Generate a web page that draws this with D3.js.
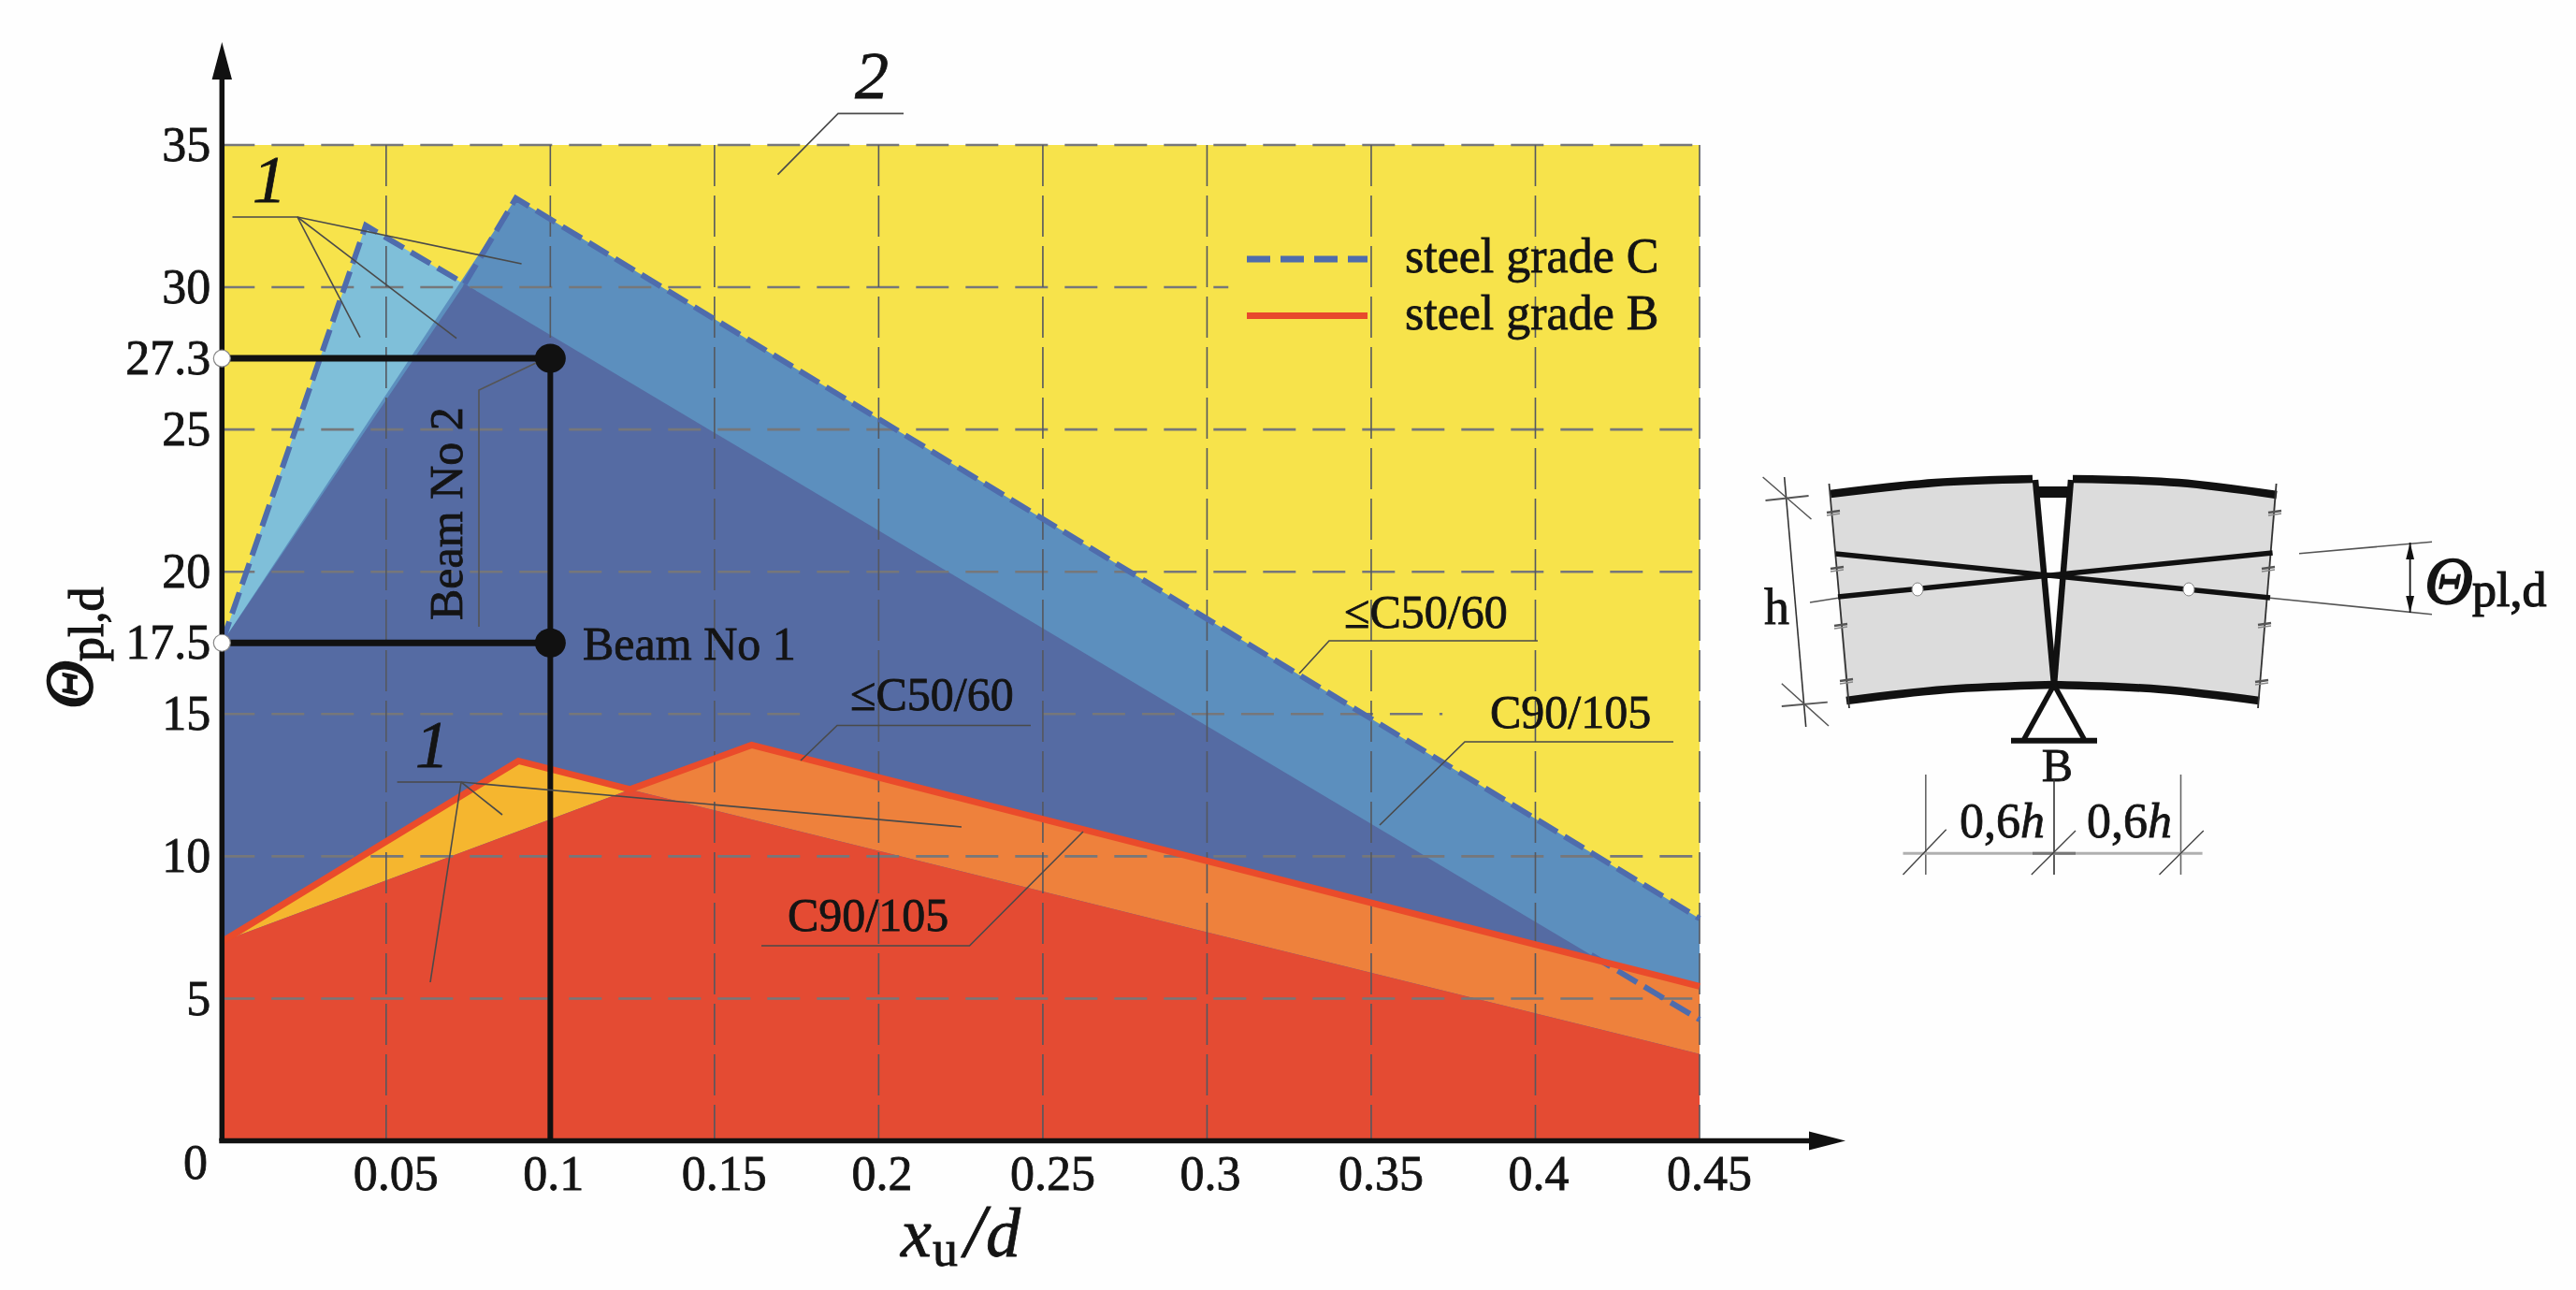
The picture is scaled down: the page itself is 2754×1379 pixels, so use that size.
<!DOCTYPE html>
<html><head><meta charset="utf-8">
<script src="https://cdn.jsdelivr.net/npm/d3@7/dist/d3.min.js"></script>
<style>
html,body{margin:0;padding:0;background:#fefefe;overflow:hidden}
text{font-family:"Liberation Serif",serif;fill:#141414;stroke:#141414;stroke-width:.8px}
</style></head><body><svg id="c" width="2754" height="1379"></svg>
<script>
// ---- data (x = xu/d, y = theta pl,d) ----
const xTicks=[0.05,0.1,0.15,0.2,0.25,0.3,0.35,0.4,0.45];
const yTicks=[5,10,15,17.5,20,25,27.5,30,35];
const yTickLabels=["5","10","15","17.5","20","25","27.3","30","35"];
const gridY=[5,10,20,25,35];
const gridYBroken=[[15,0,0.176],[15,0.25,0.3717],[30,0,0.3065]];
const gridX=[0.05,0.1,0.15,0.2,0.25,0.3,0.35,0.4,0.45];
const steelCLow=[[0,17.5],[0.0895,33.13],[0.45,7.81],[0.45,0],[0,0]];
const steelCHigh=[[0,17.5],[0.0438,32.17],[0.45,4.26],[0.45,0],[0,0]];
const steelCBoth=[[0,17.5],[0.0739,30.12],[0.45,4.26],[0.45,0],[0,0]];
const steelCEdgeA=[[0,17.5],[0.0438,32.17],[0.0739,30.12]];
const steelCEdgeB=[[0.0739,30.12],[0.0895,33.13],[0.45,7.81]];
const steelCEdgeTail=[[0.417,6.53],[0.45,4.26]];
const steelBOnlyHigh=[[0,7],[0.0903,13.35],[0.1243,12.35]];
const steelBOnlyLow=[[0.1243,12.35],[0.1613,13.91],[0.45,5.43],[0.45,3.05]];
const steelBBoth=[[0,0],[0,7],[0.1243,12.35],[0.45,3.05],[0.45,0]];
const steelBEdge=[[0,7],[0.0903,13.35],[0.1243,12.35],[0.1613,13.91],[0.45,5.43]];
const beams=[{name:"Beam No 1",x:0.1,y:17.5},{name:"Beam No 2",x:0.1,y:27.5}];

// ---- scales ----
const x=d3.scaleLinear().domain([0,0.45]).range([237.3,1817]);
const y=d3.scaleLinear().domain([0,35]).range([1219.5,155]);
const svg=d3.select("#c");
const pl=d3.line().x(d=>x(d[0])).y(d=>y(d[1]));
const raw=d3.line();
const area=(pts,fill)=>svg.append("path").attr("d",pl(pts)+"Z").attr("fill",fill);
const pen=(pts,col,w,extra)=>{const p=svg.append("path").attr("d",raw(pts)).attr("fill","none").attr("stroke",col).attr("stroke-width",w);if(extra)p.attr("stroke-dasharray",extra);return p;};
const txt=(s,px,py,size,o={})=>{const t=svg.append("text").attr("x",px).attr("y",py).attr("font-size",size).text(s);
  if(o.italic)t.attr("font-style","italic");if(o.sw)t.style("stroke-width",o.sw+"px");if(o.anchor)t.attr("text-anchor",o.anchor);if(o.rot)t.attr("transform",`rotate(-90 ${px} ${py})`);return t;};

// ---- fills ----
svg.append("rect").attr("x",x(0)).attr("y",y(35)).attr("width",x(0.45)-x(0)).attr("height",y(0)-y(35)).attr("fill","#f7e34b");
area(steelCHigh,"#7fbfd9");
area(steelCLow,"#5c8fbe");
area(steelCBoth,"#556ba3");
area(steelBOnlyHigh,"#f5b62f");
area(steelBOnlyLow,"#ee813c");
area(steelBBoth,"#e44b33");

// ---- grid ----
const hDash="35 18", vDash="44 10";
gridY.forEach(v=>pen([[x(0),y(v)],[x(0.45),y(v)]],"#76777a",2.6,hDash));
gridYBroken.forEach(g=>pen([[x(g[1]),y(g[0])],[x(g[2]),y(g[0])]],"#76777a",2.6,hDash));
gridX.forEach(v=>pen([[x(v),y(35)],[x(v),y(0)]],"#55585f",1.6,vDash));

// ---- limit lines ----
[steelCEdgeA,steelCEdgeB,steelCEdgeTail].forEach(s=>svg.append("path").attr("d",pl(s)).attr("fill","none").attr("stroke","#4f6cac").attr("stroke-width",6).attr("stroke-dasharray","24 9"));
svg.append("path").attr("d",pl(steelBEdge)).attr("fill","none").attr("stroke","#ea4b2b").attr("stroke-width",7).attr("stroke-linejoin","miter");

// ---- beam guides ----
pen([[x(0.1),y(0)],[x(0.1),y(27.5)]],"#111",6);
beams.forEach(b=>{
  pen([[x(0),y(b.y)],[x(b.x),y(b.y)]],"#111",7);
  svg.append("ellipse").attr("cx",x(b.x)).attr("cy",y(b.y)).attr("rx",16.5).attr("ry",15.5).attr("fill","#111");
});

// ---- axes ----
pen([[x(0),y(0)],[x(0),84]],"#111",5.5);
pen([[x(0)-3,y(0)],[1936,y(0)]],"#111",5.5);
svg.append("path").attr("d","M237.3,45L248,85L226.6,85Z").attr("fill","#111");
svg.append("path").attr("d","M1973,1219.5L1934,1209.5L1934,1229.5Z").attr("fill","#111");
beams.forEach(b=>svg.append("circle").attr("cx",x(0)).attr("cy",y(b.y)).attr("r",9).attr("fill","#fff").attr("stroke","#888").attr("stroke-width",1.2));

const gx=svg.append("g").attr("transform",`translate(0,${y(0)})`).call(d3.axisBottom(x).tickValues(xTicks).tickSize(0).tickPadding(16).tickFormat(d=>String(d)));
const gy=svg.append("g").attr("transform",`translate(${x(0)},0)`).call(d3.axisLeft(y).tickValues(yTicks).tickSize(0).tickPadding(12).tickFormat((d,i)=>yTickLabels[i]));
[gx,gy].forEach(g=>{g.select(".domain").remove();g.attr("font-family",null).attr("font-size",null);g.selectAll("text").attr("font-size",52).attr("fill","#141414");});
gx.selectAll("text").attr("dx",d=>String(d).length>3?10:3);
txt("0",209,1260,52,{anchor:"middle"});

// axis titles
txt("x",963,1343,74,{italic:true});
txt("u",997,1353,54);
txt("/",1031,1343,80,{italic:true});
txt("d",1054,1343,74,{italic:true});
txt("\u0398",98,758,72,{italic:true,rot:true,sw:1.8});
txt("pl,d",110,707,52,{rot:true,sw:1.2});

// ---- annotations ----
const lead="#4a4a4a";
[ [[831.5,186.6],[896,121.4],[966,121.4]],
  [[248.5,232],[318,232],[557.6,282]],
  [[318,232],[488,361.6]],
  [[318,232],[385,360.7]],
  [[424.6,836],[493,836],[1028,884]],
  [[493,836],[537,871]],
  [[493,836],[460,1050]],
  [[856,813],[895,775.5],[1102,775.5]],
  [[1389,720],[1421,685],[1644,685]],
  [[1475,882],[1566,793],[1789,793]],
  [[814,1011],[1036.5,1011],[1158,889]]
].forEach(l=>pen(l,lead,1.6));
pen([[573,388],[512,417],[512,670]],"#555",1.6);

txt("1",270,216,72,{italic:true});
txt("2",914,105,72,{italic:true});
txt("1",444,820,72,{italic:true});
txt("Beam No 1",623,705,50);
txt("Beam No 2",494,663,50,{rot:true});
txt("\u2264C50/60",909,759,50);
txt("\u2264C50/60",1437,671,50);
txt("C90/105",1593,778,50);
txt("C90/105",842,995,50);

// ---- legend ----
pen([[1333,277],[1462,277]],"#4f6cac",7,"25 11");
pen([[1333,337.5],[1462,337.5]],"#e8492c",7);
txt("steel grade C",1502,291,52);
txt("steel grade B",1502,352,52);

// ---- detail sketch ----
const curve=d3.line().curve(d3.curveCatmullRom);
const bk="#111";
const tl=[[1957,528],[2069,516],[2173,512]], tr=[[2216,512],[2329,516],[2434,529]];
const bl=[[1974,749],[2081,737],[2196,732]], br=[[2196,732],[2311,737],[2415,749]];
[[tl,bl],[tr,br]].forEach(p=>{
  svg.append("path").attr("d",raw([...p[0],...p[1].slice().reverse()])+"Z").attr("fill","#dcdcdc");
});
[tl,tr,bl,br].forEach(s=>svg.append("path").attr("d",curve(s)).attr("fill","none").attr("stroke",bk).attr("stroke-width",8.5));
svg.append("rect").attr("x",2176).attr("y",520).attr("width",38).attr("height",12).attr("fill",bk);
pen([[2176,513],[2196,732]],bk,6.5);
pen([[2214,513],[2196,732]],bk,6.5);
pen([[1955.5,517],[1977,757]],"#333",1.8);
pen([[2433.6,517],[2414,757]],"#333",1.8);
pen([[1962.5,592],[2427,639]],bk,5.5);
pen([[1965,638],[2429.6,591]],bk,5.5);
[2050,2340].forEach(cx=>svg.append("ellipse").attr("cx",cx).attr("cy",630).attr("rx",6).attr("ry",7).attr("fill","#fff").attr("stroke","#888").attr("stroke-width",1));
[[1960,547],[1964,607],[1968,668],[1974,727],[2432,547],[2425,607],[2421,667],[2418,728]].forEach(p=>{
  pen([[p[0]-7,p[1]+1],[p[0]+7,p[1]-1]],"#555",2.5);
  pen([[p[0]-7,p[1]+4],[p[0]+7,p[1]+2]],"#888",1.5);
});
// support
pen([[2196,732],[2164,790]],bk,5.5);
pen([[2196,732],[2228,790]],bk,5.5);
pen([[2150,791.7],[2242,791.7]],bk,6);
txt("B",2199.5,835,50,{anchor:"middle"});
// h dimension
pen([[1907.7,510],[1930.7,777]],"#333",1.6);
pen([[1887.5,535],[1933.6,530]],"#555",1.8);
pen([[1884.6,510],[1936.5,555]],"#555",1.5);
pen([[1904.8,755],[1953.8,750.7]],"#555",1.8);
pen([[1904.8,730.7],[1955,776]],"#555",1.5);
txt("h",1886,667,54);
// 0.6h dimension
pen([[2196,833],[2196,935]],"#333",1.6);
pen([[2058.8,828],[2058.8,935]],"#666",1.6);
pen([[2331.5,828],[2331.5,935]],"#666",1.6);
pen([[2034.5,912.3],[2354.6,912.3]],"#b0b0b0",3);
pen([[2173,912.3],[2219,912.3]],"#777",3);
pen([[2034.5,935],[2080.7,886.7]],"#444",1.4);
pen([[2171.8,935],[2219,888]],"#444",1.4);
pen([[2308.5,935],[2355.8,888]],"#444",1.4);
[2095,2231].forEach(px=>{
  const t=txt("0,6",px,895,52);
  t.append("tspan").attr("font-style","italic").text("h");
});
// rotation dimension
pen([[1935,644],[1965,639.3]],"#555",1.6);
pen([[2427,639.3],[2600,656.7]],"#555",1.6);
pen([[2458,591.7],[2600,579.3]],"#555",1.6);
pen([[2576.6,580],[2576.6,655]],bk,1.8);
svg.append("path").attr("d","M2576.6,580L2581,598L2572.2,598ZM2576.6,655L2581,637L2572.2,637Z").attr("fill",bk);
txt("\u0398",2592,645,72,{italic:true,sw:1.4});
txt("pl,d",2643,648,52,{sw:1.2});
</script></body></html>
